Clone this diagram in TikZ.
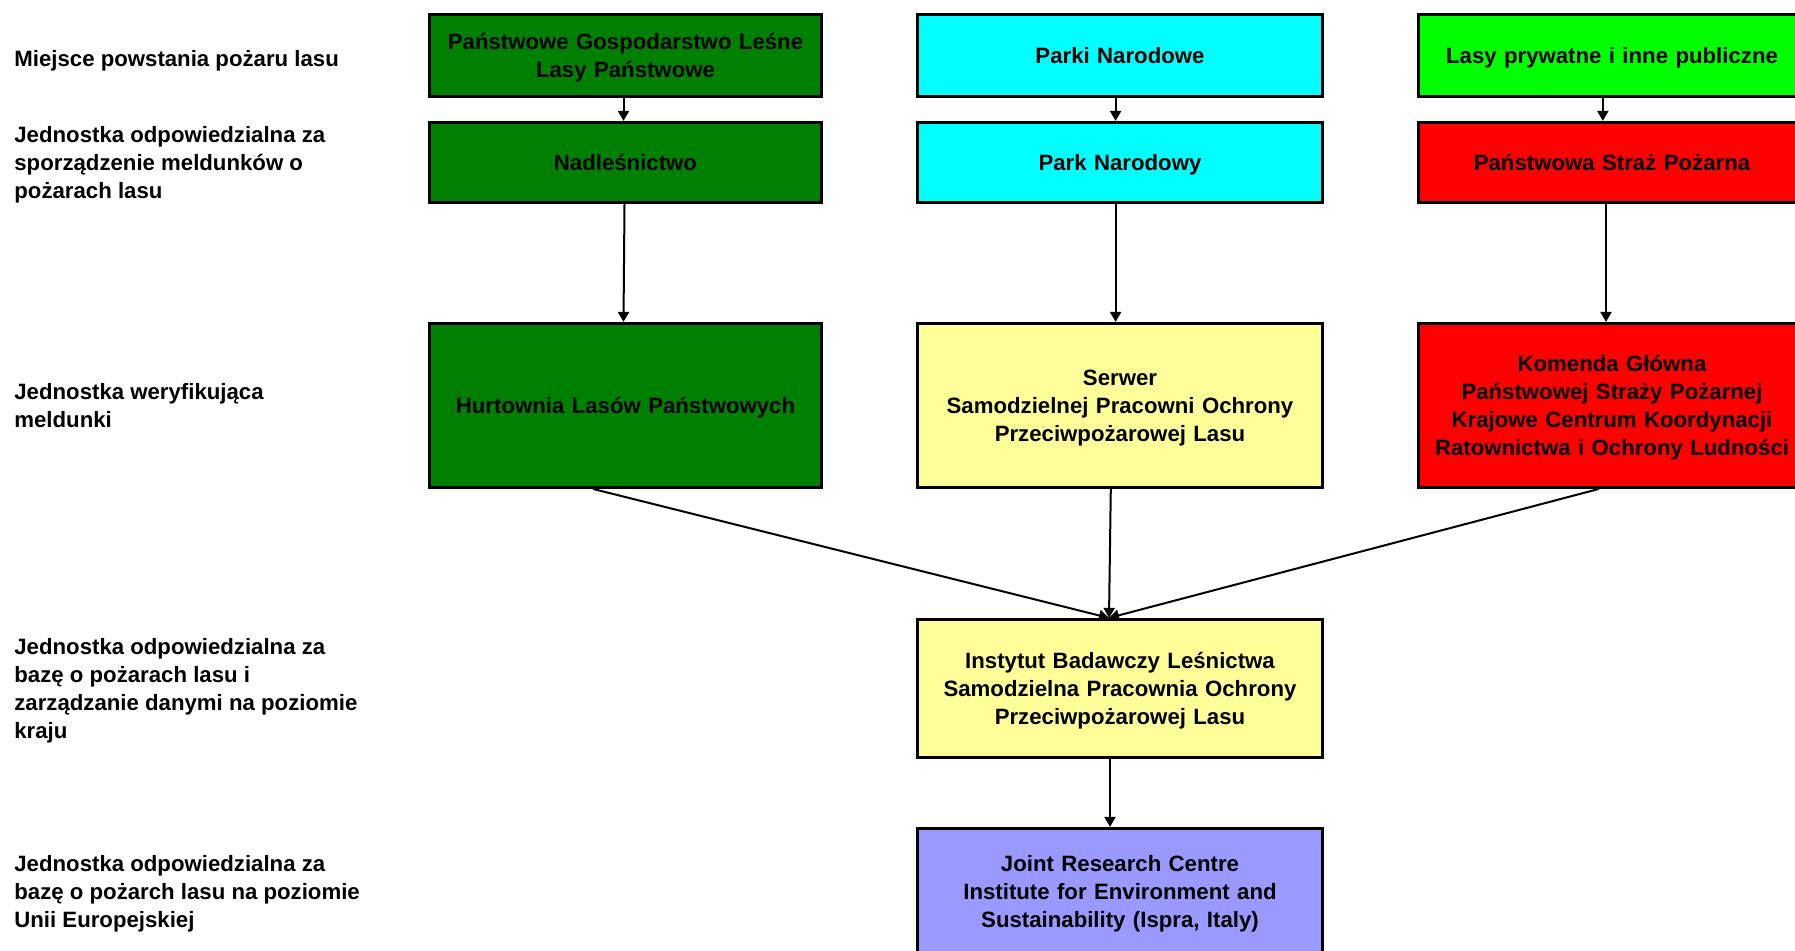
\documentclass[tikz,border=0pt]{standalone}
\usepackage{fontspec}
\setmainfont{Liberation Sans}
\usetikzlibrary{positioning, arrows.meta}
\usepackage{xcolor}
\definecolor{lpgreen}{RGB}{0,128,0}
\definecolor{pncyan}{RGB}{0,255,255}
\definecolor{lasgreen}{RGB}{0,255,0}
\definecolor{psred}{RGB}{255,0,0}
\definecolor{sppyellow}{RGB}{255,255,153}
\definecolor{jrcblue}{RGB}{153,153,255}
\newcommand{\bstrut}{\rule[-2.6pt]{0pt}{13.4pt}}

\begin{document}
\begin{tikzpicture}[x=0.5pt, y=-0.5pt,
        box/.style={draw, line width=1.5pt, inner sep=0pt, align=center,
            font=\bfseries\fontsize{11.1}{14}\selectfont,
            execute at begin node=\bstrut, execute at end node=\bstrut},
        lbl/.style={anchor=west, align=left, inner sep=0pt, yshift=-1.5pt,
            font=\bfseries\fontsize{11.1}{14}\selectfont,
            execute at begin node=\bstrut, execute at end node=\bstrut},
        arr/.style={-{Triangle[width=5.5pt,length=5pt]}, line width=1pt}]
        \useasboundingbox (0,0) rectangle (1795,950);
        % top row
        \node[box, fill=lpgreen, minimum width=196pt, text width=196pt, minimum height=41pt] (s1) at (625.5,55.4)
            {Państwowe Gospodarstwo Leśne\\Lasy Państwowe};
        \node[box, fill=pncyan, minimum width=202.5pt, text width=202.5pt, minimum height=41pt] (s2) at (1120,55.4)
            {Parki Narodowe};
        \node[box, fill=lasgreen, minimum width=193.5pt, text width=193.5pt, minimum height=41pt] (s3) at (1612,55.4)
            {Lasy prywatne i inne publiczne};
        % reporting units
        \node[box, fill=lpgreen, minimum width=196pt, text width=196pt, minimum height=40pt, below=11.5pt of s1] (r1)
            {Nadleśnictwo};
        \node[box, fill=pncyan, minimum width=202.5pt, text width=202.5pt, minimum height=40pt, below=11.5pt of s2] (r2)
            {Park Narodowy};
        \node[box, fill=psred, minimum width=193.5pt, text width=193.5pt, minimum height=40pt, below=11.5pt of s3] (r3)
            {Państwowa Straż Pożarna};
        % verifying units
        \node[box, fill=lpgreen, minimum width=196pt, text width=196pt, minimum height=82pt, below=59pt of r1] (v1)
            {Hurtownia Lasów Państwowych};
        \node[box, fill=sppyellow, minimum width=202.5pt, text width=202.5pt, minimum height=82pt, below=59pt of r2] (v2)
            {Serwer\\Samodzielnej Pracowni Ochrony\\Przeciwpożarowej Lasu};
        \node[box, fill=psred, minimum width=193.5pt, text width=193.5pt, minimum height=82pt, below=59pt of r3] (v3)
            {Komenda Główna\\Państwowej Straży Pożarnej\\Krajowe Centrum Koordynacji\\Ratownictwa i Ochrony Ludności};
        % national and EU level
        \node[box, fill=sppyellow, minimum width=202.5pt, text width=202.5pt, minimum height=69pt, below=64.5pt of v2] (ibl)
            {Instytut Badawczy Leśnictwa\\Samodzielna Pracownia Ochrony\\Przeciwpożarowej Lasu};
        \node[box, fill=jrcblue, minimum width=202.5pt, text width=202.5pt, minimum height=62.5pt, below=34pt of ibl] (jrc)
            {Joint Research Centre\\Institute for Environment and\\Sustainability (Ispra, Italy)};
        % row labels
        \node[lbl] (l1) at (14,0 |- s1) {Miejsce powstania pożaru lasu};
        \node[lbl] (l2) at (14,0 |- r1) {Jednostka odpowiedzialna za\\sporządzenie meldunków o\\pożarach lasu};
        \node[lbl] (l3) at (14,0 |- v1) {Jednostka weryfikująca\\meldunki};
        \node[lbl] (l4) at (14,0 |- ibl) {Jednostka odpowiedzialna za\\bazę o pożarach lasu i\\zarządzanie danymi na poziomie\\kraju};
        \node[lbl] (l5) at (14,0 |- jrc) {Jednostka odpowiedzialna za\\bazę o pożarch lasu na poziomie\\Unii Europejskiej};
        % arrows
        \draw[arr] ([xshift=-1pt]s1.south) -- ([xshift=-1pt]r1.north);
        \draw[arr] ([xshift=-0.5pt]r1.south) -- ([xshift=-1pt]v1.north);
        \draw[arr] ([xshift=-2.2pt]s2.south) -- ([xshift=-2.2pt]r2.north);
        \draw[arr] ([xshift=-2.2pt]r2.south) -- ([xshift=-2.2pt]v2.north);
        \draw[arr] ([xshift=-4.6pt]s3.south) -- ([xshift=-4.6pt]r3.north);
        \draw[arr] ([xshift=-3pt]r3.south) -- ([xshift=-3pt]v3.north);
        \draw[arr] ([xshift=-16.25pt]v1.south) -- ([xshift=-5.5pt]ibl.north);
        \draw[arr] ([xshift=-4.6pt]v2.south) -- ([xshift=-5.5pt]ibl.north);
        \draw[arr] ([xshift=-6.5pt]v3.south) -- ([xshift=-5.5pt]ibl.north);
        \draw[arr] ([xshift=-5pt]ibl.south) -- ([xshift=-5pt]jrc.north);
\end{tikzpicture}
\end{document}
